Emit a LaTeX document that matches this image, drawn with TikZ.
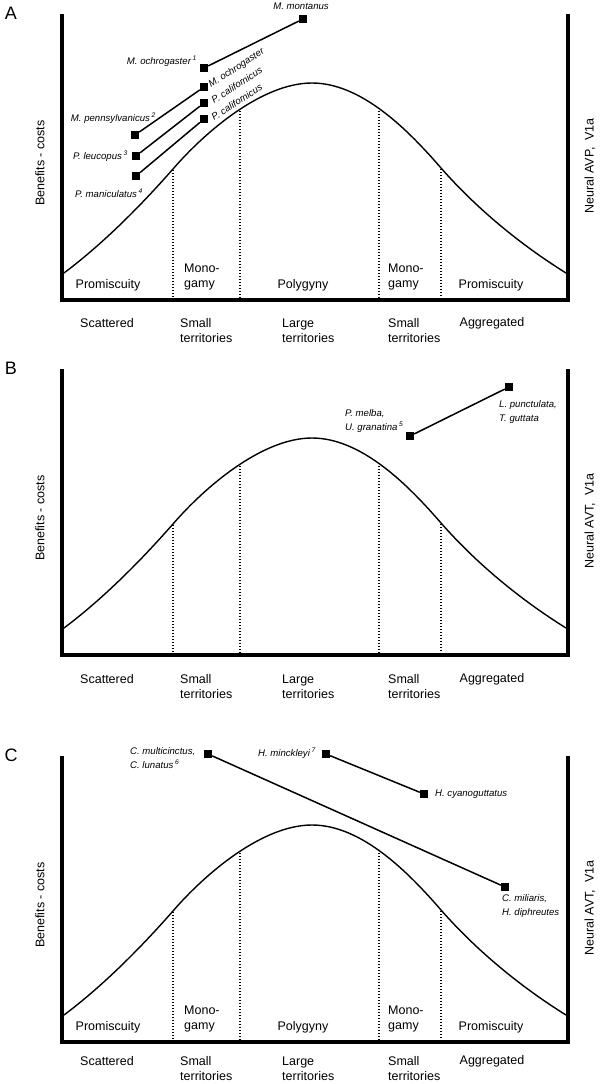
\documentclass[tikz,border=0pt]{standalone}
\usepackage{fontspec}
\setmainfont{Liberation Sans}
\begin{document}
\begin{tikzpicture}[x=1pt,y=-1pt,
  axis/.style={line width=4.5pt, line join=miter},
  curvestyle/.style={line width=1.4pt},
  divline/.style={line width=1.4pt, dash pattern=on 1.4pt off 1.6pt},
  sq/.style={rectangle, fill=black, minimum size=8pt, inner sep=0pt},
  conn/.style={line width=1.5pt},
  lbl/.style={font=\fontsize{12.5}{15}\selectfont, inner sep=0pt, align=left},
  sp/.style={font=\fontsize{9.6}{13.5}\selectfont\itshape, inner sep=0pt, align=left},
  panellbl/.style={font=\fontsize{18}{20}\selectfont, inner sep=0pt}]
\useasboundingbox (0,0) rectangle (600,1084);

\foreach \s/\n/\lab/\neur/\off in {0/a/A/AVP/23, 355/b/B/AVT/24, 742/c/C/AVT/19}{
\begin{scope}[shift={(0,\s)}]
  \node[panellbl] (letter\n) at (11,13) {\lab};
  \draw[axis] (62,14) -- (62,300) -- (568,300) -- (568,14);
  \draw[curvestyle] (64,273) .. controls (100,246) and (137,210) .. (173,169)
     .. controls (205,132) and (262,83) .. (312,83)
     .. controls (362,83) and (409,131) .. (441,168)
     .. controls (477,209) and (521,245) .. (566,273);
  \draw[divline] (173,170) -- (173,298);
  \draw[divline] (240,111) -- (240,298);
  \draw[divline] (379,111) -- (379,298);
  \draw[divline] (441,169) -- (441,298);
  \node[lbl, rotate=90] (ben\n) at (40,163) {Benefits - costs};
  \node[lbl, rotate=90] (neu\n) at (590,166) {Neural \neur,\ \ V1a};
  \node[lbl, anchor=center] (scat\n) at (107,300+\off) {Scattered};
  \node[lbl, anchor=west] (smallL\n) at (180,307.5+\off) {Small\\territories};
  \node[lbl, anchor=west] (large\n) at (282,307.5+\off) {Large\\territories};
  \node[lbl, anchor=west] (smallR\n) at (388,307.5+\off) {Small\\territories};
  \node[lbl, anchor=center] (aggr\n) at (492,300+\off) {Aggregated};
\end{scope}
}

\foreach \s/\n in {0/a, 742/c}{
\begin{scope}[shift={(0,\s)}]
  \node[lbl] (promL\n) at (108,285) {Promiscuity};
  \node[lbl, anchor=west] (monoL\n) at (184,277) {Mono-\\gamy};
  \node[lbl] (poly\n) at (303,285) {Polygyny};
  \node[lbl, anchor=west] (monoR\n) at (388,277) {Mono-\\gamy};
  \node[lbl] (promR\n) at (491,285) {Promiscuity};
\end{scope}
}

% Panel A species
\node[sq] (mont) at (303,19) {};
\node[sq] (och1) at (204,68) {};
\node[sq] (och2) at (204,87) {};
\node[sq] (cal1) at (204,103) {};
\node[sq] (cal2) at (204,119) {};
\node[sq] (penn) at (135,135) {};
\node[sq] (leu) at (136,156) {};
\node[sq] (man) at (136,176) {};
\draw[conn] (och1) -- (mont);
\draw[conn] (penn) -- (och2);
\draw[conn] (leu) -- (cal1);
\draw[conn] (man) -- (cal2);
\node[sp] (lmont) at (301,6) {M. montanus};
\node[sp, anchor=east] (loch1) at (197,61) {M. ochrogaster\,\textsuperscript{1}};
\node[sp, anchor=east] (lpenn) at (156,118) {M. pennsylvanicus\,\textsuperscript{2}};
\node[sp, anchor=east] (lleu) at (128,156) {P. leucopus\,\textsuperscript{3}};
\node[sp, anchor=east] (lman) at (143,193) {P. maniculatus\,\textsuperscript{4}};
\node[sp, anchor=base west, rotate=33] (loch2) at (211,88) {M. ochrogaster};
\node[sp, anchor=base west, rotate=33] (lcal1) at (214,104) {P. californicus};
\node[sp, anchor=base west, rotate=33] (lcal2) at (214,121) {P. californicus};

% Panel B species
\node[sq] (melba) at (410,436) {};
\node[sq] (punct) at (509,387) {};
\draw[conn] (melba) -- (punct);
\node[sp, anchor=west] (lmelba) at (345,421) {P. melba,\\U. granatina\,\textsuperscript{5}};
\node[sp, anchor=west] (lpunct) at (499,412) {L. punctulata,\\T. guttata};

% Panel C species
\node[sq] (mult) at (208,754) {};
\node[sq] (minck) at (326,754) {};
\node[sq] (cyan) at (424,794) {};
\node[sq] (mil) at (505,887) {};
\draw[conn] (mult) -- (mil);
\draw[conn] (minck) -- (cyan);
\node[sp, anchor=west] (lmult) at (130,758) {C. multicinctus,\\C. lunatus\,\textsuperscript{6}};
\node[sp, anchor=west] (lminck) at (258,753) {H. minckleyi\,\textsuperscript{7}};
\node[sp, anchor=west] (lcyan) at (435,794) {H. cyanoguttatus};
\node[sp, anchor=west] (lmil) at (502,906) {C. miliaris,\\H. diphreutes};
\end{tikzpicture}
\end{document}
